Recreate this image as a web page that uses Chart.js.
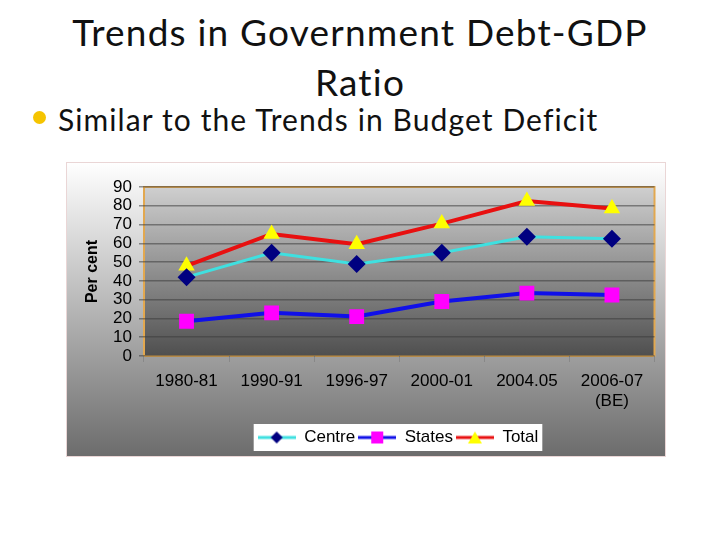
<!DOCTYPE html>
<html>
<head>
<meta charset="utf-8">
<script src="https://cdn.jsdelivr.net/npm/chart.js@4/dist/chart.umd.min.js"></script>
<style>
  html, body { margin: 0; padding: 0; background: #fff; }
  body { width: 720px; height: 540px; position: relative; overflow: hidden; }
  .title {
    position: absolute; left: 0; width: 720px; text-align: center;
    font-family: "Lato", "Open Sans", sans-serif; font-size: 37px; color: #111;
    line-height: 50px; top: 7px; letter-spacing: 1.2px;
  }
  .bullet {
    position: absolute; left: 58px; top: 101px;
    font-family: "Lato", "Open Sans", sans-serif; font-size: 30px; color: #111;
    letter-spacing: 1.1px;
  }
  .dot {
    position: absolute; left: 33px; top: 111px; width: 13px; height: 13px;
    border-radius: 50%; background: #f5c400;
  }
  .box {
    position: absolute; left: 66px; top: 162px; width: 600px; height: 295px;
    box-sizing: border-box; border: 1px solid #ead6d6;
  }
  canvas { display: block; }
</style>
</head>
<body>
<div class="title">Trends in Government Debt-GDP<br>Ratio</div>
<div class="dot"></div>
<div class="bullet">Similar to the Trends in Budget Deficit</div>
<div class="box"><canvas id="debtChart" width="598" height="293"></canvas></div>

<script>
/* ---------- data ---------- */
const years = ['1980-81', '1990-91', '1996-97', '2000-01', '2004.05', ['2006-07', '(BE)']];
const centre = [42, 55, 49, 55, 63.5, 62.5];
const states = [18.5, 23, 21, 29, 33.5, 32.5];
const total  = [48, 65, 59.5, 70.5, 82.5, 78.5];
const yMax = 90, yStep = 10;

/* ---------- legend icons: line with marker ---------- */
function legendIcon(lineColor, markColor, shape) {
  const c = document.createElement('canvas');
  c.width = 38; c.height = 14;
  const g = c.getContext('2d');
  g.strokeStyle = lineColor; g.lineWidth = 3;
  g.beginPath(); g.moveTo(0, 7); g.lineTo(38, 7); g.stroke();
  g.fillStyle = markColor;
  g.beginPath();
  if (shape === 'diamond') { g.moveTo(19, 1); g.lineTo(25, 7); g.lineTo(19, 13); g.lineTo(13, 7); }
  else if (shape === 'square') { g.rect(13, 1, 12, 12); }
  else { g.moveTo(19, 1); g.lineTo(26, 13); g.lineTo(12, 13); }
  g.closePath(); g.fill();
  return c;
}

/* ---------- backgrounds + legend placement ---------- */
const backgrounds = {
  id: 'backgrounds',
  afterLayout(chart) {
    // legend sits right of centre in the original
    chart.legend.left += 30;
    chart.legend.right += 30;
  },
  beforeDraw(chart) {
    const { ctx, width, height, chartArea: a } = chart;
    ctx.save();
    let gr = ctx.createLinearGradient(0, 0, 0, height);
    gr.addColorStop(0, '#ffffff');
    gr.addColorStop(1, '#6c6c6c');
    ctx.fillStyle = gr;
    ctx.fillRect(0, 0, width, height);

    gr = ctx.createLinearGradient(0, a.top, 0, a.bottom);
    gr.addColorStop(0, '#cfcfcf');
    gr.addColorStop(1, '#4f4f4f');
    ctx.fillStyle = gr;
    ctx.fillRect(a.left, a.top, a.right - a.left, a.bottom - a.top);
    ctx.strokeStyle = '#e2a850';
    ctx.lineWidth = 2;
    ctx.strokeRect(a.left, a.top, a.right - a.left, a.bottom - a.top);

    // white box behind legend items only
    const boxes = chart.legend.legendHitBoxes || [];
    if (boxes.length) {
      const l = Math.min(...boxes.map(b => b.left)) - 4;
      const r = Math.max(...boxes.map(b => b.left + b.width)) + 4;
      const t = Math.min(...boxes.map(b => b.top)) - 5;
      const bt = Math.max(...boxes.map(b => b.top + b.height)) + 5;
      ctx.fillStyle = '#ffffff';
      ctx.fillRect(l, t, r - l, bt - t);
    }
    ctx.restore();
  }
};

const ctx = document.getElementById('debtChart').getContext('2d');
const chart = new Chart(ctx, {
  type: 'line',
  data: {
    labels: years,
    datasets: [
      { label: 'Centre', data: centre, borderColor: '#3fe0e0', backgroundColor: '#000080',
        pointStyle: 'rectRot', pointRadius: 9, pointHoverRadius: 9, borderWidth: 3,
        pointBorderColor: '#000080', pointBorderWidth: 0, legendIcon: legendIcon('#3fe0e0', '#000080', 'diamond') },
      { label: 'States', data: states, borderColor: '#1010e8', backgroundColor: '#ff00ff',
        pointStyle: 'rect', pointRadius: 10.5, pointHoverRadius: 10.5, borderWidth: 4,
        pointBorderColor: '#ff00ff', pointBorderWidth: 0, legendIcon: legendIcon('#1010e8', '#ff00ff', 'square') },
      { label: 'Total', data: total, borderColor: '#e81010', backgroundColor: '#ffff00',
        pointStyle: 'triangle', pointRadius: 9.5, pointHoverRadius: 9.5, borderWidth: 4,
        pointBorderColor: '#ffff00', pointBorderWidth: 0, legendIcon: legendIcon('#e81010', '#ffff00', 'triangle') }
    ]
  },
  options: {
    responsive: false,
    animation: false,
    layout: { padding: { left: 14, top: 24, right: 10, bottom: 0 } },
    plugins: {
      tooltip: { enabled: false },
      legend: {
        position: 'bottom',
        labels: {
          usePointStyle: true,
          pointStyleWidth: 38,
          boxHeight: 14,
          color: '#000',
          font: { family: 'Liberation Sans, Arial, sans-serif', size: 17 },
          padding: 3,
          generateLabels(chart) {
            return chart.data.datasets.map((ds, i) => ({
              text: ds.label, pointStyle: ds.legendIcon, datasetIndex: i,
              fontColor: '#000', strokeStyle: 'transparent', lineWidth: 0
            }));
          }
        }
      }
    },
    scales: {
      x: {
        offset: true,
        grid: { display: true, drawOnChartArea: false, offset: true, color: '#888', tickLength: 6 },
        border: { display: false },
        ticks: { color: '#000', font: { family: 'Liberation Sans, Arial, sans-serif', size: 17 }, maxRotation: 0, padding: 9 },
        afterFit(s) { s.height = 70; }
      },
      y: {
        min: 0, max: yMax,
        grid: { color: 'rgba(60,60,60,0.55)', lineWidth: 1.5, tickLength: 5, drawTicks: true },
        border: { display: false },
        ticks: { stepSize: yStep, autoSkip: false, color: '#000',
                 font: { family: 'Liberation Sans, Arial, sans-serif', size: 17 }, padding: 7 },
        title: { display: true, text: 'Per cent', color: '#000',
                 font: { family: 'Liberation Sans, Arial, sans-serif', size: 16, weight: 'bold' }, padding: 2 },
        afterFit(s) { s.width = 63; }
      }
    }
  },
  plugins: [backgrounds]
});
</script>
</body>
</html>
